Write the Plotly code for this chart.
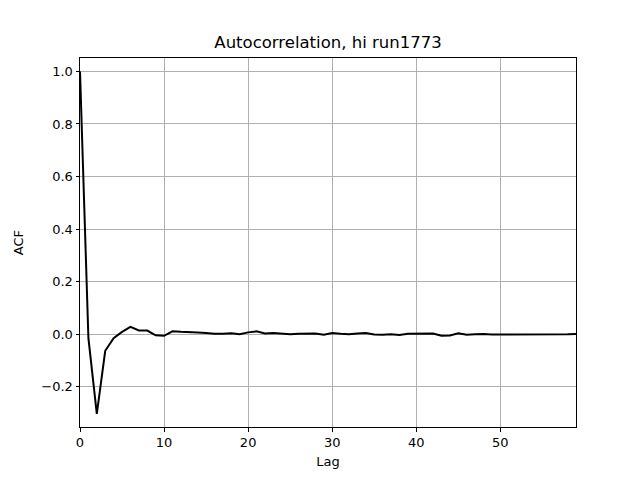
import plotly.graph_objects as go

lags = list(range(60))
acf = [1.0, -0.015, -0.303, -0.063, -0.015, 0.009, 0.028, 0.014, 0.014, -0.004,
       -0.006, 0.011, 0.009, 0.009, 0.007, 0.005, 0.002, 0.002, 0.004, 0.0,
       0.007, 0.011, 0.003, 0.005, 0.002, 0.0, 0.002, 0.003, 0.003, -0.002,
       0.005, 0.002, 0.0, 0.003, 0.005, -0.001, -0.002, 0.0, -0.003, 0.002,
       0.002, 0.002, 0.003, -0.006, -0.005, 0.004, -0.002, 0.0, 0.001, -0.001,
       -0.001, -0.001, -0.002, 0.0, -0.002, 0.0, -0.001, -0.001, 0.0, 0.001]

fig = go.Figure(go.Scatter(x=lags, y=acf, mode="lines",
                           line=dict(color="black", width=2)))

axis_common = dict(showline=True, linecolor="black", linewidth=1, mirror=True,
                   ticks="outside", ticklen=3.5, tickcolor="black",
                   showgrid=True, gridcolor="#b0b0b0", gridwidth=1,
                   zeroline=False, tickfont=dict(size=13, color="black"),
                   automargin=False)

fig.update_layout(
    width=640, height=480,
    margin=dict(l=72, r=72, t=50, b=61),
    paper_bgcolor="white", plot_bgcolor="white",
    font=dict(family="DejaVu Sans", color="black", size=13),
    title=dict(text="Autocorrelation, hi run1773", x=(328 - 8) / 640, xanchor="center",
               y=1 - 34/480, yanchor="middle", font=dict(size=16.5)),
    showlegend=False,
    xaxis=dict(range=[0, 59], tickvals=[0, 10, 20, 30, 40, 50],
               title=dict(text="Lag", standoff=7, font=dict(size=13)), **axis_common),
    yaxis=dict(range=[-0.353, 1.051], tickvals=[-0.2, 0.0, 0.2, 0.4, 0.6, 0.8, 1.0],
               tickformat=".1f",
               title=dict(text="ACF", standoff=14, font=dict(size=13)), **axis_common),
)

fig.write_html("out.html")
